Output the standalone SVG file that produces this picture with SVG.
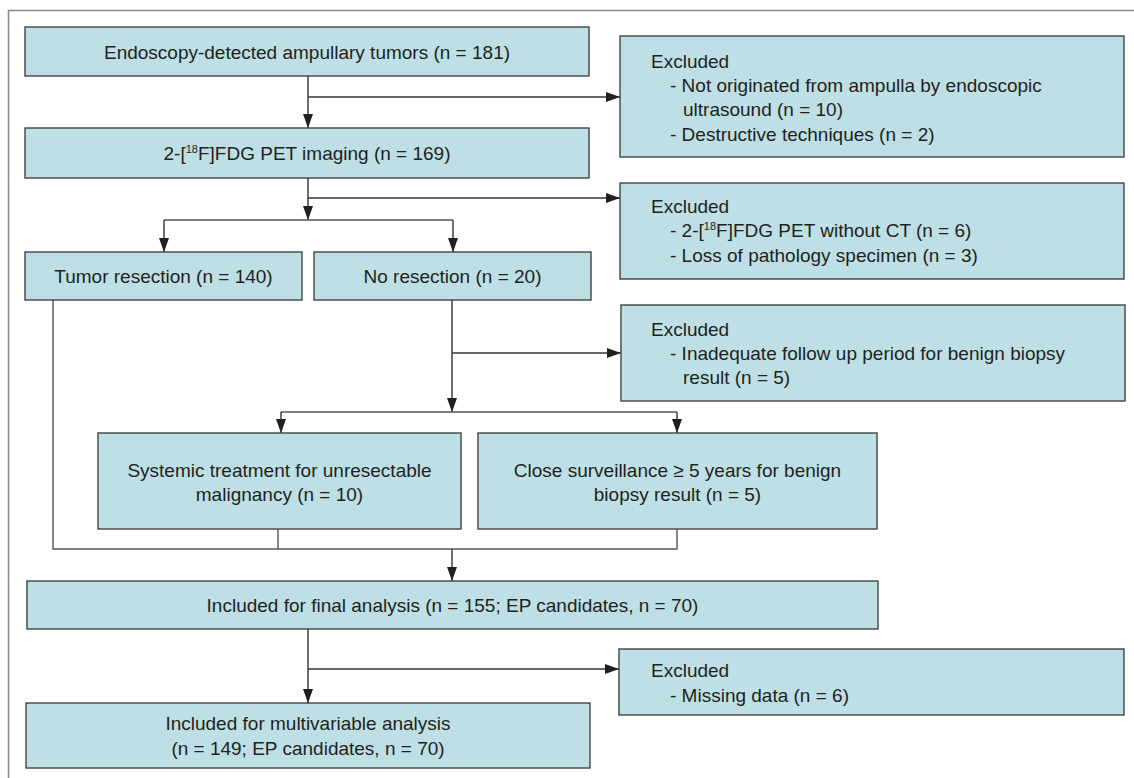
<svg xmlns="http://www.w3.org/2000/svg" width="1134" height="778" viewBox="0 0 1134 778">
<defs>
<marker id="ah" markerUnits="userSpaceOnUse" markerWidth="15" markerHeight="11" refX="14" refY="5" orient="auto">
<path d="M0,0 L14,5 L0,10 z" fill="#231f20"/>
</marker>
<style>
.box{fill:#bddfe5;stroke:#444;stroke-width:1.4}
.t{font-family:"Liberation Sans",Arial,sans-serif;font-size:19px;fill:#231f20}
.c{text-anchor:middle}
.sup{font-size:11px}
.ln{fill:none;stroke:#555;stroke-width:1.4}
.ar{fill:none;stroke:#333;stroke-width:1.4;marker-end:url(#ah)}
.frame{fill:none;stroke:#888;stroke-width:1.5}
</style>
</defs>
<rect width="1134" height="778" fill="#fff"/>
<path class="frame" d="M8.5,778 L8.5,10.5 L1134,10.5"/>

<g id="connectors">
<path class="ar" d="M308,76 L308,128"/>
<path class="ar" d="M308,97 L620,97"/>
<path class="ar" d="M308,178 L308,220"/>
<path class="ar" d="M308,198 L620,198"/>
<path class="ln" d="M164,220 L453,220"/>
<path class="ar" d="M164,220 L164,252"/>
<path class="ar" d="M453,220 L453,252"/>
<path class="ar" d="M452,300 L452,412"/>
<path class="ar" d="M452,353 L621,353"/>
<path class="ln" d="M281,412 L677,412"/>
<path class="ar" d="M281,412 L281,433"/>
<path class="ar" d="M677,412 L677,433"/>
<path class="ln" d="M53,300 L53,549 L677,549 L677,529"/>
<path class="ln" d="M278,529 L278,549"/>
<path class="ar" d="M452,549 L452,581"/>
<path class="ar" d="M308,629 L308,703"/>
<path class="ar" d="M308,669 L619,669"/>
</g>

<g id="n-detected">
<rect class="box" x="25" y="27" width="564" height="49"/>
<text class="t c" x="307" y="59">Endoscopy-detected ampullary tumors (n = 181)</text>
</g>
<g id="n-excl1">
<rect class="box" x="620" y="36" width="504" height="121"/>
<text class="t" x="651" y="68">Excluded</text>
<text class="t" x="670" y="92">- Not originated from ampulla by endoscopic</text>
<text class="t" x="683" y="116">ultrasound (n = 10)</text>
<text class="t" x="670" y="141">- Destructive techniques (n = 2)</text>
</g>
<g id="n-pet">
<rect class="box" x="25" y="128" width="564" height="50"/>
<text class="t c" x="307" y="160">2-[<tspan class="sup" dy="-7">18</tspan><tspan dy="7">F]FDG PET imaging (n = 169)</tspan></text>
</g>
<g id="n-excl2">
<rect class="box" x="620" y="183" width="504" height="96"/>
<text class="t" x="651" y="213">Excluded</text>
<text class="t" x="670" y="237">- 2-[<tspan class="sup" dy="-7">18</tspan><tspan dy="7">F]FDG PET without CT (n = 6)</tspan></text>
<text class="t" x="670" y="262">- Loss of pathology specimen (n = 3)</text>
</g>
<g id="n-tumor">
<rect class="box" x="25" y="252" width="277" height="48"/>
<text class="t c" x="163.5" y="283">Tumor resection (n = 140)</text>
</g>
<g id="n-nores">
<rect class="box" x="314" y="252" width="277" height="48"/>
<text class="t c" x="452.5" y="283">No resection (n = 20)</text>
</g>
<g id="n-excl3">
<rect class="box" x="621" y="305" width="504" height="96"/>
<text class="t" x="651" y="336">Excluded</text>
<text class="t" x="670" y="360">- Inadequate follow up period for benign biopsy</text>
<text class="t" x="683" y="384">result (n = 5)</text>
</g>
<g id="n-systemic">
<rect class="box" x="98" y="433" width="363" height="96"/>
<text class="t c" x="279.5" y="477">Systemic treatment for unresectable</text>
<text class="t c" x="279.5" y="501">malignancy (n = 10)</text>
</g>
<g id="n-close">
<rect class="box" x="478" y="433" width="399" height="96"/>
<text class="t c" x="677.5" y="477">Close surveillance ≥ 5 years for benign</text>
<text class="t c" x="677.5" y="501">biopsy result (n = 5)</text>
</g>
<g id="n-final">
<rect class="box" x="27" y="581" width="851" height="48"/>
<text class="t c" x="452.5" y="612">Included for final analysis (n = 155; EP candidates, n = 70)</text>
</g>
<g id="n-excl4">
<rect class="box" x="619" y="649" width="505" height="66"/>
<text class="t" x="651" y="677">Excluded</text>
<text class="t" x="670" y="702">- Missing data (n = 6)</text>
</g>
<g id="n-multi">
<rect class="box" x="26" y="703" width="564" height="65"/>
<text class="t c" x="308" y="730">Included for multivariable analysis</text>
<text class="t c" x="308" y="755">(n = 149; EP candidates, n = 70)</text>
</g>
</svg>
